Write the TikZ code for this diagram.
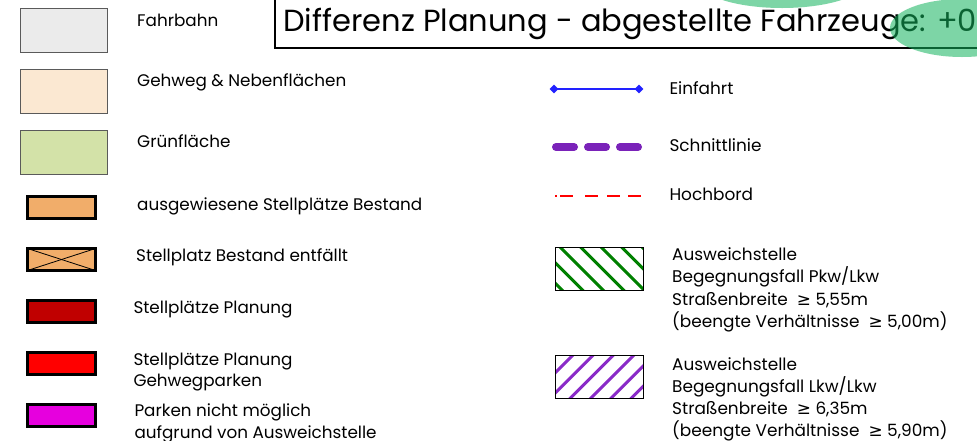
\documentclass[tikz,border=0pt]{standalone}
\usepackage{fontspec}
\setmainfont{Poppins}
\newfontfamily\symfnt{DejaVu Sans}
\usetikzlibrary{shapes.geometric}
\newcommand\legfnt{\fontsize{16.8}{21.7}\selectfont}
\newcommand\rightfnt{\fontsize{16.9}{22.2}\selectfont}
\newcommand\ttlfnt{\fontsize{30.5}{34}\selectfont}
\newcommand\gee{{\symfnt ≥}}
\definecolor{fahrbahn}{RGB}{235,235,235}
\definecolor{gehweg}{RGB}{251,232,210}
\definecolor{gruen}{RGB}{211,226,168}
\definecolor{swborder}{RGB}{90,90,90}
\definecolor{bestand}{RGB}{241,173,106}
\definecolor{planung}{RGB}{192,0,0}
\definecolor{gehwegpark}{RGB}{255,0,0}
\definecolor{nichtparken}{RGB}{230,0,222}
\definecolor{einfahrt}{RGB}{34,34,255}
\definecolor{schnitt}{RGB}{122,34,185}
\definecolor{hochbord}{RGB}{255,0,0}
\definecolor{hatchgreen}{RGB}{0,128,0}
\definecolor{hatchpurple}{RGB}{138,43,200}
\definecolor{ovgreen}{RGB}{20,180,93}
\begin{document}
\begin{tikzpicture}[x=1pt,y=-1pt,
  swatch/.style={draw=swborder, line width=1pt, outer sep=0pt, minimum width=87pt, minimum height=44pt},
  parkbox/.style={draw=black, line width=3pt, outer sep=0pt, minimum width=68pt, minimum height=22pt},
  lbl/.style={anchor=base west, inner sep=0pt, align=left, font=\legfnt},
  rlbl/.style={anchor=base west, inner sep=0pt, align=left, font=\rightfnt},
  hatchbox/.style={draw=black, line width=0.9pt, outer sep=0pt, minimum width=88pt, minimum height=43pt},
  diam/.style={diamond, fill=einfahrt, inner sep=0pt, minimum width=9pt, minimum height=9pt},
]
\useasboundingbox (0,0) rectangle (977,440);
\fill[white] (0,0) rectangle (977,440);

% title
\draw[line width=2pt] (275,-10) rectangle (1000,48);
\node[anchor=base west, inner sep=0pt, font=\ttlfnt] (title) at (283,31) {Differenz Planung - abgestellte Fahrzeuge: +0};

% left swatches
\node[swatch, fill=fahrbahn] (sw1) at (63.5,30) {};
\node[swatch, fill=gehweg] (sw2) at (63.5,91) {};
\node[swatch, fill=gruen] (sw3) at (63.5,152) {};
\node[lbl] (t1) at (137,26.7) {Fahrbahn};
\node[lbl] (t2) at (137,86) {Gehweg \& Nebenflächen};
\node[lbl] (t3) at (137,147.7) {Grünfläche};

\node[parkbox, fill=bestand] (sw4) at (61.5,207) {};
\node[parkbox, fill=bestand] (sw5) at (61.5,259.5) {};
\draw[line width=0.8pt] (sw5.north west) -- (sw5.south east);
\draw[line width=0.8pt] (sw5.south west) -- (sw5.north east);
\node[parkbox, fill=planung] (sw6) at (61.5,311) {};
\node[parkbox, fill=gehwegpark] (sw7) at (61.5,363.5) {};
\node[parkbox, fill=nichtparken] (sw8) at (61.5,415.5) {};

\node[lbl] (t4) at (137,210) {ausgewiesene Stellplätze Bestand};
\node[lbl] (t5) at (136,261.7) {Stellplatz Bestand entfällt};
\node[lbl] (t6) at (133.3,313.3) {Stellplätze Planung};
\node[lbl] (t7) at (133.3,386.7) {Stellplätze Planung\\Gehwegparken};
\node[lbl] (t8) at (134.3,438.3) {Parken nicht möglich\\aufgrund von Ausweichstelle};

% right column lines
\node[diam] (e1) at (554,89) {};
\node[diam] (e2) at (639,89) {};
\draw[einfahrt, line width=2.2pt] (e1.center) -- (e2.center);
\node[rlbl] (t9) at (669.3,94) {Einfahrt};

\coordinate (s1) at (556,147);
\coordinate (s2) at (639,147);
\draw[schnitt, line width=8pt, line cap=round, dash pattern=on 18pt off 14pt] (s1) -- (s2);
\node[rlbl] (t10) at (669.3,151.7) {Schnittlinie};

\coordinate (h1) at (555,196);
\coordinate (h2) at (641,196);
\draw[hochbord, line width=2.5pt, dash pattern=on 1.5pt off 3.5pt on 13pt off 12pt on 13pt off 9pt on 13pt off 8pt on 13pt off 20pt] (h1) -- (h2);
\node[rlbl] (t11) at (669.3,200.7) {Hochbord};

% hatched boxes
\node[hatchbox] (hg) at (599,268.5) {};
\begin{scope}
  \clip (hg.north west) rectangle (hg.south east);
  \foreach \k in {0,...,6} {
    \pgfmathsetmacro\c{272+20.5*\k}
    \draw[hatchgreen, line width=3pt] (\c+230,230) -- (\c+310,310);
  }
\end{scope}
\node[hatchbox] (hgb) at (599,268.5) {};
\node[rlbl] (t12) at (672,327.3) {Ausweichstelle\\Begegnungsfall Pkw/Lkw\\Straßenbreite \ \gee\ 5,55m\\(beengte Verhältnisse \ \gee\ 5,00m)};

\node[hatchbox] (hp) at (599,376.5) {};
\begin{scope}
  \clip (hp.north west) rectangle (hp.south east);
  \foreach \k in {-1,...,6} {
    \pgfmathsetmacro\c{928+20.3*\k}
    \draw[hatchpurple, line width=3pt] (\c-340,340) -- (\c-410,410);
  }
\end{scope}
\node[hatchbox] (hpb) at (599,376.5) {};
\node[rlbl] (t13) at (672,436.7) {Ausweichstelle\\Begegnungsfall Lkw/Lkw\\Straßenbreite \ \gee\ 6,35m\\(beengte Verhältnisse \ \gee\ 5,90m)};

% green overlay ellipses
\fill[ovgreen, opacity=0.55] (782,-20) ellipse [x radius=85pt, y radius=28pt];
\fill[ovgreen, opacity=0.55] (962,28) ellipse [x radius=72pt, y radius=29pt];
\end{tikzpicture}
\end{document}
